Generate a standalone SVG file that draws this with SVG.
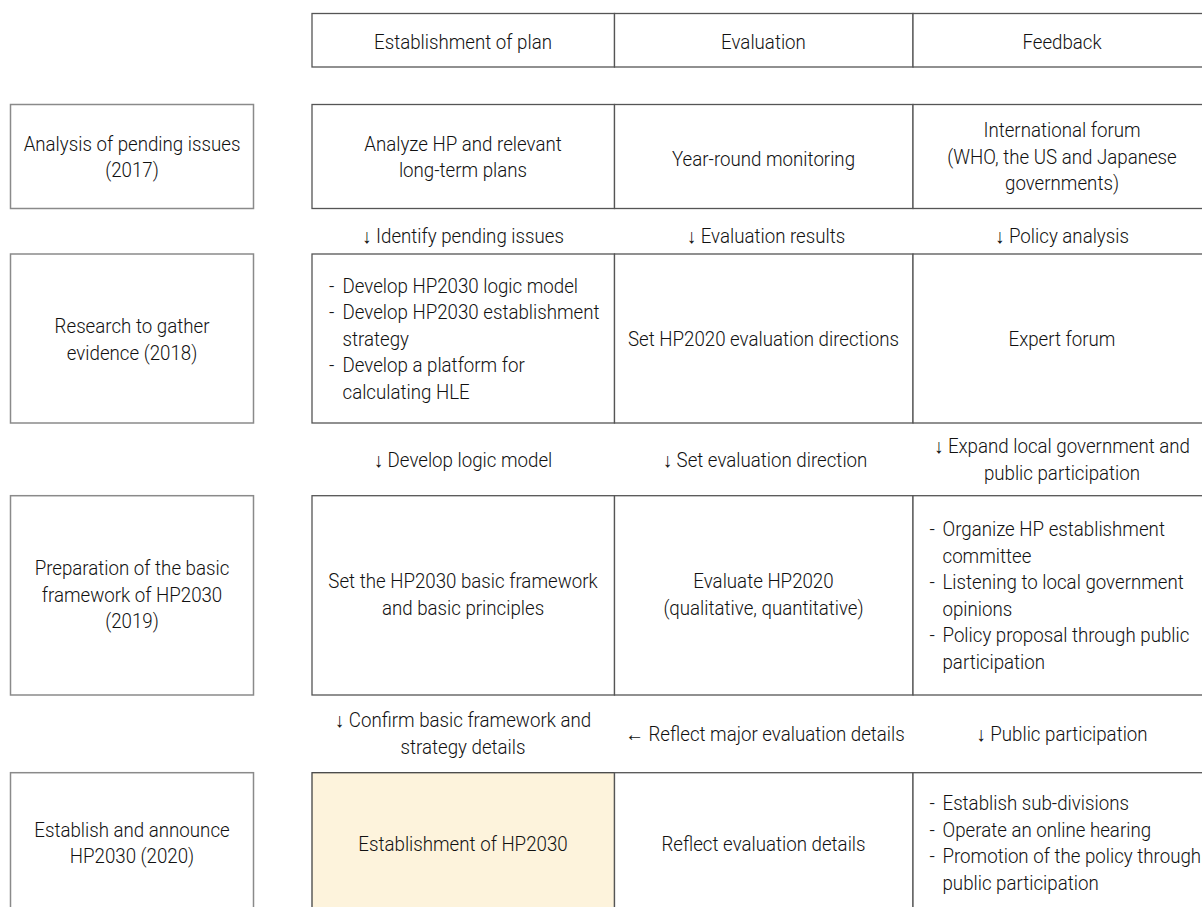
<svg xmlns="http://www.w3.org/2000/svg" width="1202" height="907" viewBox="0 0 1202 907">
<style>
  text { font-family: Roboto, "Liberation Sans", sans-serif; font-size: 20px; font-weight: 300; fill: #111111; transform-box: fill-box; transform: scaleX(0.935); }
  .c { text-anchor: middle; transform-origin: center; }
  .l { transform-origin: left center; }
  .side { fill: #ffffff; stroke: #8a8a8a; stroke-width: 1.5; }
  .cell { fill: #ffffff; stroke: #555555; stroke-width: 1.3; }
  .hl { fill: #fdf3dc; stroke: #444444; stroke-width: 1.3; }
</style>
<rect x="0" y="0" width="1202" height="907" fill="#ffffff"/>

<!-- Header -->
<g id="hdr-plan"><rect class="cell" x="312" y="13.5" width="302.5" height="53.5"/><text class="c" x="463" y="49">Establishment of plan</text></g>
<g id="hdr-eval"><rect class="cell" x="614.5" y="13.5" width="298.5" height="53.5"/><text class="c" x="763.5" y="49">Evaluation</text></g>
<g id="hdr-feed"><rect class="cell" x="913" y="13.5" width="300" height="53.5"/><text class="c" x="1062" y="49">Feedback</text></g>

<!-- Row 1 -->
<g id="r1-stage"><rect class="side" x="10.5" y="104.5" width="243" height="104"/>
  <text class="c" x="132" y="150.7">Analysis of pending issues</text><text class="c" x="132" y="177.2">(2017)</text></g>
<g id="r1-plan"><rect class="cell" x="312" y="104.5" width="302.5" height="104"/>
  <text class="c" x="463" y="150.7">Analyze HP and relevant</text><text class="c" x="463" y="177.2">long-term plans</text></g>
<g id="r1-eval"><rect class="cell" x="614.5" y="104.5" width="298.5" height="104"/>
  <text class="c" x="763.5" y="166">Year-round monitoring</text></g>
<g id="r1-feed"><rect class="cell" x="913" y="104.5" width="300" height="104"/>
  <text class="c" x="1062" y="137.5">International forum</text><text class="c" x="1062" y="164">(WHO, the US and Japanese</text><text class="c" x="1062" y="190.5">governments)</text></g>

<!-- Row 2 -->
<g id="r2-stage"><rect class="side" x="10.5" y="254" width="243" height="169"/>
  <text class="c" x="132" y="333.3">Research to gather</text><text class="c" x="132" y="359.8">evidence (2018)</text></g>
<g id="r2-plan"><rect class="cell" x="312" y="254" width="302.5" height="169"/>
  <text class="l" x="329" y="292.7">-</text><text class="l" x="342.5" y="292.7">Develop HP2030 logic model</text>
  <text class="l" x="329" y="319.2">-</text><text class="l" x="342.5" y="319.2">Develop HP2030 establishment</text>
  <text class="l" x="342.5" y="345.7">strategy</text>
  <text class="l" x="329" y="372.2">-</text><text class="l" x="342.5" y="372.2">Develop a platform for</text>
  <text class="l" x="342.5" y="398.7">calculating HLE</text></g>
<g id="r2-eval"><rect class="cell" x="614.5" y="254" width="298.5" height="169"/>
  <text class="c" x="763.5" y="346">Set HP2020 evaluation directions</text></g>
<g id="r2-feed"><rect class="cell" x="913" y="254" width="300" height="169"/>
  <text class="c" x="1062" y="346">Expert forum</text></g>

<!-- Row 3 -->
<g id="r3-stage"><rect class="side" x="10.5" y="495.7" width="243" height="199.3"/>
  <text class="c" x="132" y="575">Preparation of the basic</text><text class="c" x="132" y="601.6">framework of HP2030</text><text class="c" x="132" y="628.2">(2019)</text></g>
<g id="r3-plan"><rect class="cell" x="312" y="495.7" width="302.5" height="199.3"/>
  <text class="c" x="463" y="588.4">Set the HP2030 basic framework</text><text class="c" x="463" y="615">and basic principles</text></g>
<g id="r3-eval"><rect class="cell" x="614.5" y="495.7" width="298.5" height="199.3"/>
  <text class="c" x="763.5" y="588.4">Evaluate HP2020</text><text class="c" x="763.5" y="615">(qualitative, quantitative)</text></g>
<g id="r3-feed"><rect class="cell" x="913" y="495.7" width="300" height="199.3"/>
  <text class="l" x="929.5" y="536">-</text><text class="l" x="942.5" y="536">Organize HP establishment</text>
  <text class="l" x="942.5" y="562.6">committee</text>
  <text class="l" x="929.5" y="589.2">-</text><text class="l" x="942.5" y="589.2">Listening to local government</text>
  <text class="l" x="942.5" y="615.8">opinions</text>
  <text class="l" x="929.5" y="642.4">-</text><text class="l" x="942.5" y="642.4">Policy proposal through public</text>
  <text class="l" x="942.5" y="669">participation</text></g>

<!-- Row 4 -->
<g id="r4-stage"><rect class="side" x="10.5" y="772.7" width="243" height="145"/>
  <text class="c" x="132" y="836.7">Establish and announce</text><text class="c" x="132" y="863.3">HP2030 (2020)</text></g>
<g id="r4-plan"><rect class="hl" x="312" y="772.7" width="302.5" height="145"/>
  <text class="c" x="463" y="850.7">Establishment of HP2030</text></g>
<g id="r4-eval"><rect class="cell" x="614.5" y="772.7" width="298.5" height="145"/>
  <text class="c" x="763.5" y="850.7">Reflect evaluation details</text></g>
<g id="r4-feed"><rect class="cell" x="913" y="772.7" width="300" height="145"/>
  <text class="l" x="929.5" y="810">-</text><text class="l" x="942.5" y="810">Establish sub-divisions</text>
  <text class="l" x="929.5" y="836.7">-</text><text class="l" x="942.5" y="836.7">Operate an online hearing</text>
  <text class="l" x="929.5" y="863.3">-</text><text class="l" x="942.5" y="863.3">Promotion of the policy through</text>
  <text class="l" x="942.5" y="890">public participation</text></g>

<!-- Connectors (arrow labels between rows) -->
<g id="connectors">
  <text class="c" x="463" y="242.7">↓ Identify pending issues</text>
  <text class="c" x="766" y="242.7">↓ Evaluation results</text>
  <text class="c" x="1062" y="242.7">↓ Policy analysis</text>

  <text class="c" x="463" y="466.7">↓ Develop logic model</text>
  <text class="c" x="765" y="466.7">↓ Set evaluation direction</text>
  <text class="c" x="1062" y="453">↓ Expand local government and</text>
  <text class="c" x="1062" y="480">public participation</text>

  <text class="c" x="463" y="727">↓ Confirm basic framework and</text>
  <text class="c" x="463" y="754">strategy details</text>
  <text class="c" x="765" y="740.7">← Reflect major evaluation details</text>
  <text class="c" x="1062" y="740.7">↓ Public participation</text>
</g>
</svg>
